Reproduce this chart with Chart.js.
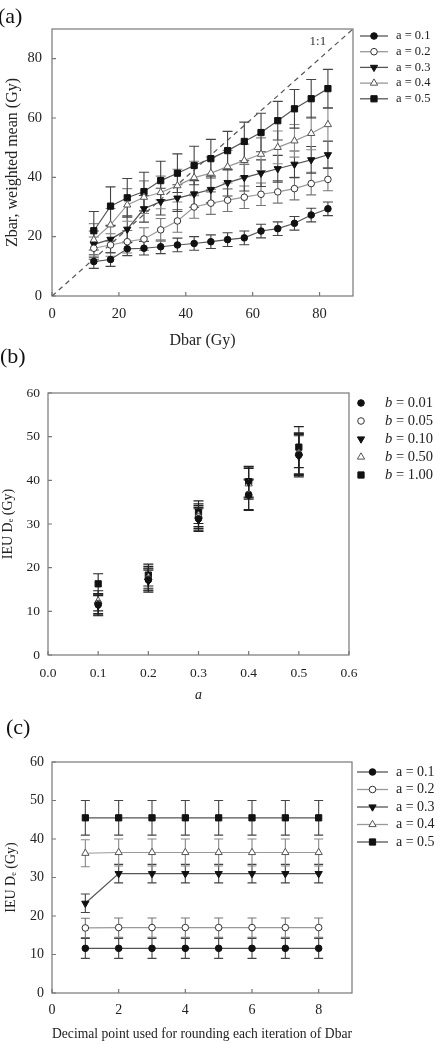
<!DOCTYPE html>
<html>
<head>
<meta charset="utf-8">
<script src="https://cdn.jsdelivr.net/npm/chart.js@4.4.1/dist/chart.umd.min.js"></script>
<style>
  body { margin: 0; background: #fff; width: 443px; height: 1044px; position: relative; overflow: hidden; }
  canvas { position: absolute; left: 0; }
  .tag { position: absolute; font-family: 'Liberation Serif', serif; font-size: 22px; color: #111; z-index: 2; }
</style>
</head>
<body>
<canvas id="chartA" width="443" height="350" style="top:0"></canvas>
<canvas id="chartB" width="443" height="355" style="top:350px"></canvas>
<canvas id="chartC" width="443" height="339" style="top:705px"></canvas>
<div class="tag" style="left:-2px; top:3px">(a)</div>
<div class="tag" style="left:0px; top:343px">(b)</div>
<div class="tag" style="left:6px; top:714px">(c)</div>
<script>
// (a) Zbar vs Dbar
const dbar = [12.5, 17.5, 22.5, 27.5, 32.5, 37.5, 42.5, 47.5, 52.5, 57.5, 62.5, 67.5, 72.5, 77.5, 82.5];
const zbar01 = [11.6, 12.3, 15.9, 16.1, 16.6, 17.2, 17.7, 18.3, 19.0, 19.6, 21.9, 22.7, 24.5, 27.3, 29.4];
const zbar02 = [16.1, 17.2, 18.3, 19.2, 22.3, 25.3, 30.0, 31.3, 32.3, 33.3, 34.3, 35.1, 36.2, 37.9, 39.3];
const zbar03 = [17.4, 19.1, 22.5, 29.4, 31.8, 33.0, 34.4, 35.9, 38.2, 39.9, 41.4, 42.9, 44.4, 45.9, 47.6];
const zbar04 = [18.9, 24.0, 30.7, 33.3, 34.9, 37.2, 39.9, 41.4, 43.6, 45.7, 47.8, 50.1, 52.3, 54.8, 57.8];
const zbar05 = [22.0, 30.3, 33.1, 35.2, 38.9, 41.4, 44.0, 46.3, 49.0, 52.1, 55.1, 59.1, 63.1, 66.5, 69.9];
const zbarErr = [2.3, 3.8, 4.5, 5.5, 6.5];
const aLabels = ['a = 0.1', 'a = 0.2', 'a = 0.3', 'a = 0.4', 'a = 0.5'];
const ticksA = [0, 20, 40, 60, 80];
const oneToOne = [0, 90];

// (b) IEU De vs a
const aValues = [0.1, 0.2, 0.3, 0.4, 0.5];
const de001 = [11.5, 17.2, 31.2, 36.6, 45.8];
const de005 = [11.8, 17.4, 31.6, 36.8, 46.0];
const de010 = [11.3, 16.9, 30.9, 39.5, 45.5];
const de050 = [12.4, 17.8, 32.0, 39.2, 46.2];
const de100 = [16.3, 18.3, 32.7, 39.7, 47.6];
const deErr = [2.3, 2.5, 2.6, 3.5, 4.7];
const bLabels = [' = 0.01', ' = 0.05', ' = 0.10', ' = 0.50', ' = 1.00'];
const ticksBx = [0, 0.1, 0.2, 0.3, 0.4, 0.5, 0.6];
const ticksBy = [0, 10, 20, 30, 40, 50, 60];

// (c) IEU De vs decimal point
const decimals = [1, 2, 3, 4, 5, 6, 7, 8];
const dec01 = [11.6, 11.6, 11.6, 11.6, 11.6, 11.6, 11.6, 11.6];
const dec02 = [16.9, 17.0, 17.0, 17.0, 17.0, 17.0, 17.0, 17.0];
const dec03 = [23.3, 31.0, 31.0, 31.0, 31.0, 31.0, 31.0, 31.0];
const dec04 = [36.3, 36.5, 36.5, 36.5, 36.5, 36.5, 36.5, 36.5];
const dec05 = [45.5, 45.5, 45.5, 45.5, 45.5, 45.5, 45.5, 45.5];
const decErr = [2.6, 2.5, 2.4, 3.5, 4.5];
const ticksCx = [0, 2, 4, 6, 8];
const ticksCy = [0, 10, 20, 30, 40, 50, 60];

const SERIF = "'Liberation Serif', 'Times New Roman', serif";
Chart.defaults.font.family = SERIF;
Chart.defaults.color = '#222';

const markers = [
    { style: 'circle', r: 3.3, fill: '#111', edge: '#111', line: '#555', err: '#444' },
    { style: 'circle', r: 3.3, fill: '#fff', edge: '#333', line: '#999', err: '#777' },
    { style: 'triangle', rot: 180, r: 4.2, fill: '#111', edge: '#111', line: '#555', err: '#444' },
    { style: 'triangle', r: 4.2, fill: '#fff', edge: '#555', line: '#999', err: '#888' },
    { style: 'rect', r: 4.4, fill: '#111', edge: '#111', line: '#555', err: '#444' }
];

function series(xs, ys, errs, label, m, showLine, errColor) {
    return {
        label: label,
        data: xs.map((x, i) => ({ x: x, y: ys[i] })),
        errors: errs,
        showLine: showLine,
        borderColor: m.line,
        borderWidth: 1.2,
        pointStyle: m.style,
        pointRotation: m.rot || 0,
        pointRadius: m.r,
        pointBackgroundColor: m.fill,
        pointBorderColor: m.edge,
        pointBorderWidth: 1,
        errorColor: errColor || m.err
    };
}

// error bars under the markers
const errorBars = {
    id: 'errorBars',
    beforeDatasetsDraw(chart, args, opts) {
        const { ctx, scales: { x, y } } = chart;
        const cap = opts.cap || 5;
        ctx.save();
        ctx.lineWidth = 1.1;
        chart.data.datasets.forEach(ds => {
            if (!ds.errors) return;
            ctx.strokeStyle = ds.errorColor;
            ctx.beginPath();
            ds.data.forEach((p, i) => {
                const e = ds.errors[i];
                const px = x.getPixelForValue(p.x);
                const top = y.getPixelForValue(p.y + e);
                const bot = y.getPixelForValue(p.y - e);
                ctx.moveTo(px, top); ctx.lineTo(px, bot);
                ctx.moveTo(px - cap, top); ctx.lineTo(px + cap, top);
                ctx.moveTo(px - cap, bot); ctx.lineTo(px + cap, bot);
            });
            ctx.stroke();
        });
        ctx.restore();
    }
};

// box round the plot with inward ticks
const frame = {
    id: 'frame',
    beforeDatasetsDraw(chart) {
        const { ctx, chartArea: a, scales: { x, y } } = chart;
        ctx.save();
        ctx.strokeStyle = '#777';
        ctx.lineWidth = 1.2;
        ctx.strokeRect(a.left, a.top, a.right - a.left, a.bottom - a.top);
        ctx.beginPath();
        x.ticks.forEach(t => {
            const px = x.getPixelForValue(t.value);
            ctx.moveTo(px, a.bottom); ctx.lineTo(px, a.bottom - 4);
        });
        y.ticks.forEach(t => {
            const py = y.getPixelForValue(t.value);
            ctx.moveTo(a.left, py); ctx.lineTo(a.left + 4, py);
        });
        ctx.stroke();
        ctx.restore();
    }
};

// legend on the right: line + marker + text
const sideLegend = {
    id: 'sideLegend',
    afterDraw(chart, args, opts) {
        const ctx = chart.ctx;
        const items = chart.data.datasets.filter(d => d.label);
        ctx.save();
        items.forEach((ds, i) => {
            const y = opts.top + i * opts.step;
            if (opts.line) {
                ctx.strokeStyle = ds.borderColor;
                ctx.lineWidth = 1.3;
                ctx.beginPath();
                ctx.moveTo(opts.x, y);
                ctx.lineTo(opts.x + opts.line, y);
                ctx.stroke();
            }
            const mx = opts.line ? opts.x + opts.line / 2 : opts.x;
            ctx.fillStyle = ds.pointBackgroundColor;
            ctx.strokeStyle = ds.pointBorderColor;
            ctx.lineWidth = ds.pointBorderWidth;
            Chart.helpers.drawPoint(ctx, {
                pointStyle: ds.pointStyle,
                rotation: ds.pointRotation,
                radius: ds.pointRadius,
                borderWidth: ds.pointBorderWidth
            }, mx, y);
            ctx.fillStyle = '#222';
            ctx.textBaseline = 'middle';
            ctx.textAlign = 'left';
            let tx = opts.textX;
            if (opts.italicLead) {
                ctx.font = 'italic ' + opts.size + 'px ' + SERIF;
                ctx.fillText(opts.italicLead, tx, y);
                tx += ctx.measureText(opts.italicLead).width;
            }
            ctx.font = opts.size + 'px ' + SERIF;
            ctx.fillText(ds.label, tx, y);
        });
        ctx.restore();
    }
};

// small text placed in data units
const note = {
    id: 'note',
    afterDraw(chart, args, opts) {
        if (!opts.text) return;
        const { ctx, scales: { x, y } } = chart;
        ctx.save();
        ctx.font = opts.size + 'px ' + SERIF;
        ctx.fillStyle = '#333';
        ctx.textAlign = 'center';
        ctx.textBaseline = 'middle';
        ctx.fillText(opts.text, x.getPixelForValue(opts.x), y.getPixelForValue(opts.y));
        ctx.restore();
    }
};

function axis(opts) {
    return {
        type: 'linear',
        min: opts.min,
        max: opts.max,
        afterBuildTicks: s => { s.ticks = opts.ticks.map(v => ({ value: v })); },
        afterFit: s => { if (opts.width) s.width = opts.width; if (opts.height) s.height = opts.height; },
        grid: { display: false, drawTicks: false },
        border: { display: false },
        ticks: {
            padding: opts.pad,
            font: { size: opts.tickSize },
            color: '#222',
            maxRotation: 0,
            autoSkip: false,
            callback: opts.fmt || (v => v)
        },
        title: {
            display: true,
            text: opts.title,
            font: { size: opts.titleSize, style: opts.italic ? 'italic' : 'normal' },
            color: '#222',
            padding: opts.titlePad
        }
    };
}

function baseOptions(pad, scales, legend, noteOpts, cap) {
    return {
        responsive: false,
        animation: false,
        events: [],
        layout: { padding: pad },
        scales: scales,
        plugins: {
            legend: { display: false },
            tooltip: { enabled: false },
            sideLegend: legend,
            note: noteOpts || {},
            errorBars: { cap: cap }
        }
    };
}

const plugins = [frame, errorBars, sideLegend, note];

// chart (a)
const dsA = [zbar01, zbar02, zbar03, zbar04, zbar05].map((ys, k) =>
    series(dbar, ys, dbar.map(() => zbarErr[k]), aLabels[k], markers[k], true));
dsA.push({
    data: oneToOne.map(v => ({ x: v, y: v })),
    showLine: true,
    borderColor: '#555',
    borderWidth: 1.2,
    borderDash: [5, 4],
    pointRadius: 0
});
new Chart(document.getElementById('chartA'), {
    type: 'scatter',
    data: { datasets: dsA },
    options: baseOptions(
        { left: 0, right: 90, top: 29, bottom: 0 },
        {
            x: axis({ min: 0, max: 90, ticks: ticksA, height: 54, pad: 9, tickSize: 14.5, title: 'Dbar (Gy)', titleSize: 16, titlePad: { top: 0, bottom: 0 } }),
            y: axis({ min: 0, max: 90, ticks: ticksA, width: 52, pad: 10, tickSize: 14.5, title: 'Zbar, weighted mean (Gy)', titleSize: 16, titlePad: { top: 3, bottom: 0 } })
        },
        { x: 360, line: 28, textX: 396, top: 36, step: 15.7, size: 12.5 },
        { text: '1:1', x: 79.5, y: 85.6, size: 13 },
        5
    ),
    plugins: plugins
});

// chart (b)
const dsB = [de001, de005, de010, de050, de100].map((ys, k) =>
    series(aValues, ys, deErr, bLabels[k], markers[k], false, '#222'));
new Chart(document.getElementById('chartB'), {
    type: 'scatter',
    data: { datasets: dsB },
    options: baseOptions(
        { left: 0, right: 94, top: 43, bottom: 0 },
        {
            x: axis({ min: 0, max: 0.6, ticks: ticksBx, height: 50, pad: 10, tickSize: 13.5, fmt: v => v.toFixed(1), title: 'a', italic: true, titleSize: 14, titlePad: { top: 0, bottom: 1 } }),
            y: axis({ min: 0, max: 60, ticks: ticksBy, width: 48, pad: 8, tickSize: 13.5, title: 'IEU D\u2091 (Gy)', titleSize: 14, titlePad: { top: 0, bottom: 0 } })
        },
        { x: 361, line: 0, textX: 385, italicLead: 'b', top: 53, step: 18, size: 14.5 },
        null,
        5
    ),
    plugins: plugins
});

// chart (c)
const dsC = [dec01, dec02, dec03, dec04, dec05].map((ys, k) =>
    series(decimals, ys, decimals.map(() => decErr[k]), aLabels[k], markers[k], true));
new Chart(document.getElementById('chartC'), {
    type: 'scatter',
    data: { datasets: dsC },
    options: baseOptions(
        { left: 0, right: 91, top: 57, bottom: 0 },
        {
            x: axis({ min: 0, max: 9, ticks: ticksCx, height: 51, pad: 9, tickSize: 14, title: 'Decimal point used for rounding each iteration of Dbar', titleSize: 14, titlePad: { top: 0, bottom: 1 } }),
            y: axis({ min: 0, max: 60, ticks: ticksCy, width: 52, pad: 8, tickSize: 14, title: 'IEU D\u2091 (Gy)', titleSize: 14, titlePad: { top: 3, bottom: 0 } })
        },
        { x: 357, line: 31, textX: 396, top: 67, step: 17.5, size: 14 },
        null,
        4.5
    ),
    plugins: plugins
});
</script>
</body>
</html>
